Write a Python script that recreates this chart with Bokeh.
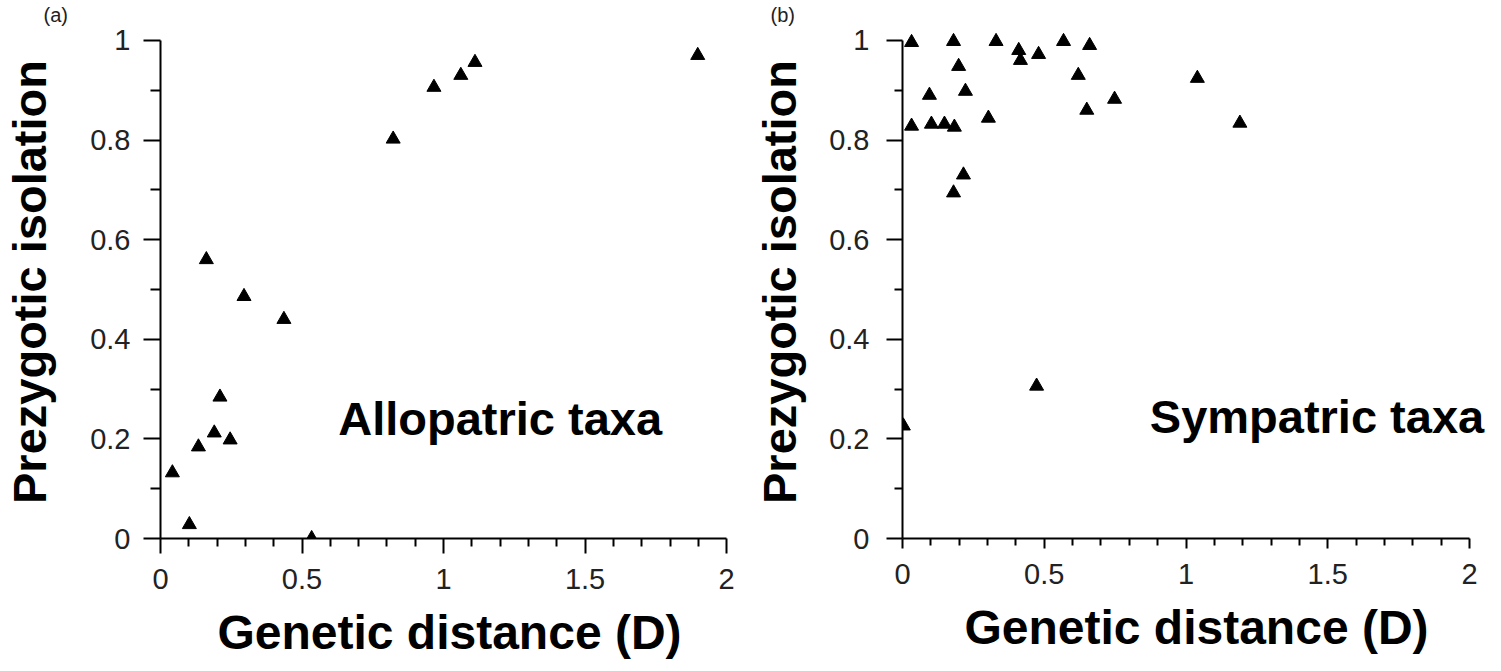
from bokeh.plotting import figure
from bokeh.models import FixedTicker, Range1d, Label, Title
from bokeh.layouts import row
from bokeh.embed import file_html
from bokeh.resources import INLINE

# ---------------- data ----------------
# (a) Allopatric taxa
allo_distance = [0.042, 0.102, 0.134, 0.162, 0.190, 0.210, 0.246, 0.295, 0.436,
                 0.534, 0.822, 0.966, 1.061, 1.111, 1.898]
allo_isolation = [0.132, 0.028, 0.184, 0.560, 0.212, 0.284, 0.198, 0.486, 0.440,
                  0.000, 0.802, 0.906, 0.930, 0.956, 0.970]

# (b) Sympatric taxa
symp_distance = [0.032, 0.180, 0.330, 0.410, 0.416, 0.480, 0.568, 0.660, 0.198,
                 0.620, 1.040, 0.095, 0.222, 0.748, 0.650, 0.303, 0.032, 0.102,
                 0.148, 0.183, 0.215, 0.180, 1.190, 0.473, 0.003]
symp_isolation = [0.996, 0.998, 0.998, 0.980, 0.960, 0.972, 0.998, 0.990, 0.948,
                  0.930, 0.924, 0.890, 0.898, 0.882, 0.860, 0.844, 0.828, 0.832,
                  0.832, 0.826, 0.730, 0.694, 0.834, 0.306, 0.226]

x_ticks = [0, 0.5, 1, 1.5, 2]
x_tick_labels = ["0", "0.5", "1", "1.5", "2"]
x_minor_ticks = [0.1, 0.2, 0.3, 0.4, 0.6, 0.7, 0.8, 0.9,
                 1.1, 1.2, 1.3, 1.4, 1.6, 1.7, 1.8, 1.9]
y_ticks = [0, 0.2, 0.4, 0.6, 0.8, 1]
y_tick_labels = ["0", "0.2", "0.4", "0.6", "0.8", "1"]
y_minor_ticks = [0.1, 0.3, 0.5, 0.7, 0.9]

x_title = "Genetic distance (D)"
y_title = "Prezygotic isolation"
panel_tags = ["(a)", "(b)"]
panel_names = ["Allopatric taxa", "Sympatric taxa"]

FONT = "Liberation Sans"
HEIGHT = 670


def make_panel(dist, iso, tag, name, width, border_left, border_right,
               border_top, x_end, name_x, name_y, tag_offset,
               y_tick_out, y_minor_out, x_tick_out, x_minor_out,
               y_label_standoff, y_axis_label_standoff):
    p = figure(width=width, height=HEIGHT,
               x_range=Range1d(0, x_end), y_range=Range1d(0, 1.03),
               min_border_left=border_left, min_border_right=border_right,
               min_border_top=border_top,
               min_border_bottom=HEIGHT - border_top - 515,
               output_backend="svg", toolbar_location=None)
    p.grid.visible = False
    p.outline_line_color = None
    p.background_fill_color = "white"
    p.border_fill_color = "white"

    # panel tag as a title placed left of the frame
    p.title = Title(text=tag, align="left", offset=tag_offset, standoff=0,
                    text_font=FONT, text_font_size="20px",
                    text_font_style="normal", text_color="#222222")

    # x axis
    xa = p.xaxis[0]
    xa.ticker = FixedTicker(ticks=x_ticks, minor_ticks=x_minor_ticks)
    xa.major_label_overrides = dict(zip(x_ticks, x_tick_labels))
    xa.bounds = (0, 2)
    xa.axis_line_color = "black"
    xa.axis_line_width = 2
    xa.major_tick_line_color = "black"
    xa.major_tick_line_width = 2
    xa.minor_tick_line_color = "black"
    xa.minor_tick_line_width = 2
    xa.major_tick_in = 0
    xa.minor_tick_in = 0
    xa.major_tick_out = x_tick_out
    xa.minor_tick_out = x_minor_out
    xa.major_label_standoff = 15
    xa.major_label_text_font = FONT
    xa.major_label_text_font_size = "29px"
    xa.major_label_text_color = "#222222"
    xa.axis_label = x_title
    xa.axis_label_text_font = FONT
    xa.axis_label_text_font_style = "bold"
    xa.axis_label_text_font_size = "48px"
    xa.axis_label_text_color = "black"
    xa.axis_label_standoff = 14

    # y axis
    ya = p.yaxis[0]
    ya.ticker = FixedTicker(ticks=y_ticks, minor_ticks=y_minor_ticks)
    ya.major_label_overrides = dict(zip(y_ticks, y_tick_labels))
    ya.bounds = (0, 1)
    ya.axis_line_color = "black"
    ya.axis_line_width = 2
    ya.major_tick_line_color = "black"
    ya.major_tick_line_width = 2
    ya.minor_tick_line_color = "black"
    ya.minor_tick_line_width = 2
    ya.major_tick_in = 0
    ya.minor_tick_in = 0
    ya.major_tick_out = y_tick_out
    ya.minor_tick_out = y_minor_out
    ya.major_label_standoff = y_label_standoff
    ya.major_label_text_font = FONT
    ya.major_label_text_font_size = "29px"
    ya.major_label_text_color = "#222222"
    ya.axis_label = y_title
    ya.axis_label_text_font = FONT
    ya.axis_label_text_font_style = "bold"
    ya.axis_label_text_font_size = "47px"
    ya.axis_label_text_color = "black"
    ya.axis_label_standoff = y_axis_label_standoff

    p.scatter(dist, iso, marker="triangle", size=14,
              fill_color="black", line_color="black")

    p.add_layout(Label(x=name_x, y=name_y, text=name, text_align="center",
                       text_baseline="alphabetic", text_font=FONT,
                       text_font_style="bold", text_font_size="47px",
                       text_color="black"))
    return p


# panel (a): axis origin at page x=157, y=538; 284.5 px per D unit, 500 px per unit
p_a = make_panel(allo_distance, allo_isolation, panel_tags[0], panel_names[0],
                 width=750, border_left=157, border_right=12, border_top=23,
                 x_end=2.042, name_x=1.20, name_y=0.241, tag_offset=-117,
                 y_tick_out=17, y_minor_out=10, x_tick_out=15, x_minor_out=8,
                 y_label_standoff=13, y_axis_label_standoff=31)

# panel (b): axis origin at page x=902, y=540
p_b = make_panel(symp_distance, symp_isolation, panel_tags[1], panel_names[1],
                 width=751, border_left=152, border_right=11, border_top=25,
                 x_end=2.074, name_x=1.462, name_y=0.245, tag_offset=-132,
                 y_tick_out=16, y_minor_out=8, x_tick_out=10, x_minor_out=7,
                 y_label_standoff=17, y_axis_label_standoff=20)

layout = row(p_a, p_b)
open("out.html", "w").write(file_html(layout, INLINE))
